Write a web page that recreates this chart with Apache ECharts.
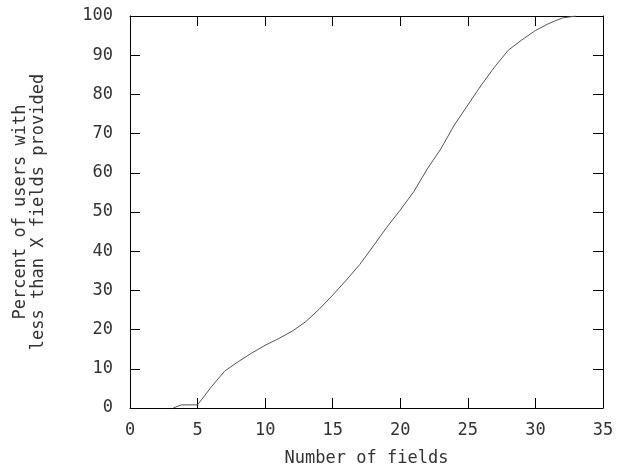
<!DOCTYPE html>
<html>
<head>
<meta charset="utf-8">
<script src="https://cdn.jsdelivr.net/npm/echarts@6/dist/echarts.min.js"></script>
<style>
  html, body { margin: 0; padding: 0; background: #fff; }
  #chart { width: 629px; height: 472px; }
</style>
</head>
<body>
<div id="chart"></div>
<script>
// number of fields (x) and percent of users below it (y)
const fieldCounts = [3.2, 3.8, 5, 6, 7, 8, 9, 10, 11, 12, 13, 14, 15, 16, 17, 18,
  19, 20, 21, 22, 23, 24, 25, 26, 27, 28, 29, 30, 31, 32, 33];
const percentUsers = [0, 0.8, 0.8, 5.3, 9.4, 11.8, 14.0, 16.0, 17.7, 19.6, 22.0, 25.2,
  28.8, 32.6, 36.6, 41.3, 46.1, 50.5, 55.2, 61.0, 66.1, 72.2, 77.3, 82.4, 87.1,
  91.3, 93.9, 96.3, 98.1, 99.5, 100];
const xTicks = [0, 5, 10, 15, 20, 25, 30, 35];
const yTicks = [0, 10, 20, 30, 40, 50, 60, 70, 80, 90, 100];

const FONT = "DejaVu Sans Mono";
const textColor = "#333";

const chart = echarts.init(document.getElementById("chart"));

const tickStyle = { show: true, inside: true, length: 10, lineStyle: { color: "#000", width: 1 } };
const lineStyle = { show: true, onZero: false, lineStyle: { color: "#000", width: 1 } };

const option = {
  animation: false,
  grid: { left: 130, right: 26, top: 16, bottom: 64 },
  xAxis: [
    {
      type: "value",
      min: xTicks[0],
      max: xTicks[xTicks.length - 1],
      interval: 5,
      name: "Number of fields",
      nameLocation: "middle",
      nameGap: 42,
      nameTextStyle: { fontFamily: FONT, fontSize: 17, color: textColor },
      axisLine: lineStyle,
      axisTick: tickStyle,
      axisLabel: { fontFamily: FONT, fontSize: 17, color: textColor, margin: 14 },
      splitLine: { show: false },
    },
    {
      type: "value",
      position: "top",
      min: xTicks[0],
      max: xTicks[xTicks.length - 1],
      interval: 5,
      axisLine: lineStyle,
      axisTick: tickStyle,
      axisLabel: { show: false },
      splitLine: { show: false },
    },
  ],
  yAxis: [
    {
      type: "value",
      min: yTicks[0],
      max: yTicks[yTicks.length - 1],
      interval: 10,
      name: "Percent of users with\nless than X fields provided",
      nameLocation: "middle",
      nameGap: 82,
      nameTextStyle: { fontFamily: FONT, fontSize: 17, color: textColor, lineHeight: 18 },
      axisLine: lineStyle,
      axisTick: tickStyle,
      axisLabel: { fontFamily: FONT, fontSize: 17, color: textColor, margin: 17 },
      splitLine: { show: false },
    },
    {
      type: "value",
      position: "right",
      min: yTicks[0],
      max: yTicks[yTicks.length - 1],
      interval: 10,
      axisLine: lineStyle,
      axisTick: tickStyle,
      axisLabel: { show: false },
      splitLine: { show: false },
    },
  ],
  series: [
    {
      type: "line",
      xAxisIndex: 0,
      yAxisIndex: 0,
      symbol: "none",
      lineStyle: { color: "#555", width: 1 },
      data: fieldCounts.map((x, i) => [x, percentUsers[i]]),
    },
  ],
};
chart.setOption(option);
</script>
</body>
</html>
